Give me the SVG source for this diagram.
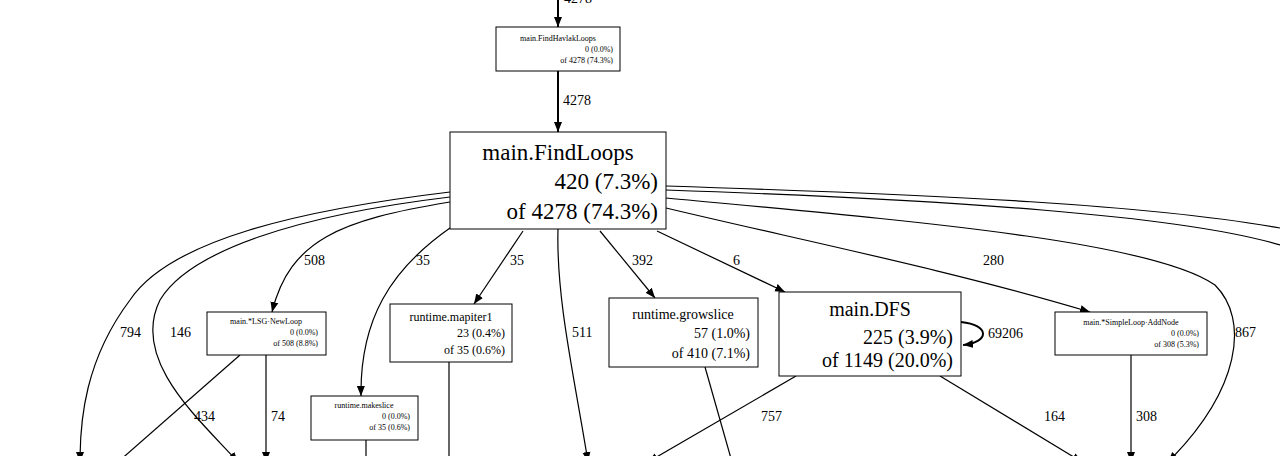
<svg xmlns="http://www.w3.org/2000/svg" width="1280" height="456" viewBox="0 0 1280 456" font-family="Liberation Serif, DejaVu Serif, serif">
<style>
text{font-family:"Liberation Serif","DejaVu Serif",serif;fill:#000}
.box{fill:#fff;stroke:#000;stroke-width:1}
.e{fill:none;stroke:#000;stroke-width:1.2}
.eb{fill:none;stroke:#000;stroke-width:2}
.l{font-size:14px}
.s{font-size:8px}
.m{font-size:12px;}
.c{text-anchor:middle}
.r{text-anchor:end}
</style>
<defs>
<marker id="a" viewBox="0 0 10 10" refX="10" refY="5" markerWidth="10" markerHeight="10" markerUnits="userSpaceOnUse" orient="auto"><path d="M0,1L10,5L0,9z" fill="#000"/></marker>
</defs>
<g id="connectors">
<path class="eb" d="M558,0V27" marker-end="url(#a)"/>
<text class="l" x="564" y="3">4278</text>
<path class="eb" d="M558,71V132" marker-end="url(#a)"/>
<text class="l" x="563" y="105">4278</text>
<path class="e" d="M450,192C300,210 170,240 130,300C85,360 80,420 80,462" marker-end="url(#a)"/>
<text class="l" x="120" y="337">794</text>
<path class="e" d="M450,197C300,215 190,250 160,300C130,360 200,420 238,462" marker-end="url(#a)"/>
<text class="l" x="170" y="337">146</text>
<path class="e" d="M450,202C340,220 290,240 272,312" marker-end="url(#a)"/>
<text class="l" x="304" y="265">508</text>
<path class="e" d="M450,228C390,270 360,320 361,396" marker-end="url(#a)"/>
<text class="l" x="416" y="265">35</text>
<path class="e" d="M523,231L474,304" marker-end="url(#a)"/>
<text class="l" x="510" y="265">35</text>
<path class="e" d="M558,229C556,300 575,380 588,462" marker-end="url(#a)"/>
<text class="l" x="572" y="337">511</text>
<path class="e" d="M600,231L655,298" marker-end="url(#a)"/>
<text class="l" x="632" y="265">392</text>
<path class="e" d="M657,231L785,292" marker-end="url(#a)"/>
<text class="l" x="733" y="265">6</text>
<path class="e" d="M666,208C800,240 950,270 1090,312" marker-end="url(#a)"/>
<text class="l" x="983" y="265">280</text>
<path class="e" d="M666,198C900,220 1150,240 1215,285C1250,320 1240,390 1168,462" marker-end="url(#a)"/>
<text class="l" x="1235" y="337">867</text>
<path class="e" d="M666,186C950,195 1150,205 1280,228"/>
<path class="e" d="M666,190C950,200 1180,215 1280,245"/>
<path class="e" d="M240,355L118,462"/>
<text class="l" x="194" y="421">434</text>
<path class="e" d="M266,355V462" marker-end="url(#a)"/>
<text class="l" x="271" y="421">74</text>
<path class="e" d="M366,440V462"/>
<path class="e" d="M449,362V462"/>
<path class="e" d="M705,367L732,462"/>
<path class="e" d="M796,376L648,462" marker-end="url(#a)"/>
<text class="l" x="761" y="421">757</text>
<path class="e" d="M940,376L1082,462" marker-end="url(#a)"/>
<text class="l" x="1044" y="421">164</text>
<path class="e" d="M1131,355V462" marker-end="url(#a)"/>
<text class="l" x="1136" y="421">308</text>
<path class="eb" d="M961,322C990,325 990,342 963,345" marker-end="url(#a)"/>
<text class="l" x="988" y="338">69206</text>
</g>
<g id="FindHavlakLoops">
<rect class="box" x="496" y="27" width="124" height="44"/>
<text class="s c" x="558" y="41">main.FindHavlakLoops</text>
<text class="s r" x="613" y="52">0 (0.0%)</text>
<text class="s r" x="613" y="63">of 4278 (74.3%)</text>
</g>
<g id="FindLoops">
<rect class="box" x="450" y="132" width="216" height="97"/>
<text class="c" style="font-size:23px" x="558" y="160">main.FindLoops</text>
<text class="r" style="font-size:23px" x="658" y="189">420 (7.3%)</text>
<text class="r" style="font-size:23px" x="658" y="219">of 4278 (74.3%)</text>
</g>
<g id="LSGNewLoop">
<rect class="box" x="207" y="312" width="119" height="43"/>
<text class="s c" x="266" y="324">main.*LSG·NewLoop</text>
<text class="s r" x="318" y="335">0 (0.0%)</text>
<text class="s r" x="318" y="346">of 508 (8.8%)</text>
</g>
<g id="mapiter1">
<rect class="box" x="390" y="304" width="122" height="58"/>
<text class="m c" x="451" y="321">runtime.mapiter1</text>
<text class="m r" x="505" y="337">23 (0.4%)</text>
<text class="m r" x="505" y="354">of 35 (0.6%)</text>
</g>
<g id="makeslice">
<rect class="box" x="311" y="396" width="107" height="44"/>
<text class="s c" x="364" y="408">runtime.makeslice</text>
<text class="s r" x="410" y="419">0 (0.0%)</text>
<text class="s r" x="410" y="430">of 35 (0.6%)</text>
</g>
<g id="growslice">
<rect class="box" x="609" y="298" width="149" height="69"/>
<text class="c" style="font-size:14px" x="683" y="319">runtime.growslice</text>
<text class="r" style="font-size:14px" x="750" y="338">57 (1.0%)</text>
<text class="r" style="font-size:14px" x="750" y="358">of 410 (7.1%)</text>
</g>
<g id="DFS">
<rect class="box" x="779" y="292" width="182" height="84"/>
<text class="c" style="font-size:20px" x="870" y="316">main.DFS</text>
<text class="r" style="font-size:20px" x="953" y="344">225 (3.9%)</text>
<text class="r" style="font-size:20px" x="953" y="367">of 1149 (20.0%)</text>
</g>
<g id="AddNode">
<rect class="box" x="1055" y="312" width="152" height="43"/>
<text class="s c" x="1131" y="325">main.*SimpleLoop·AddNode</text>
<text class="s r" x="1199" y="336">0 (0.0%)</text>
<text class="s r" x="1199" y="347">of 308 (5.3%)</text>
</g>
</svg>
